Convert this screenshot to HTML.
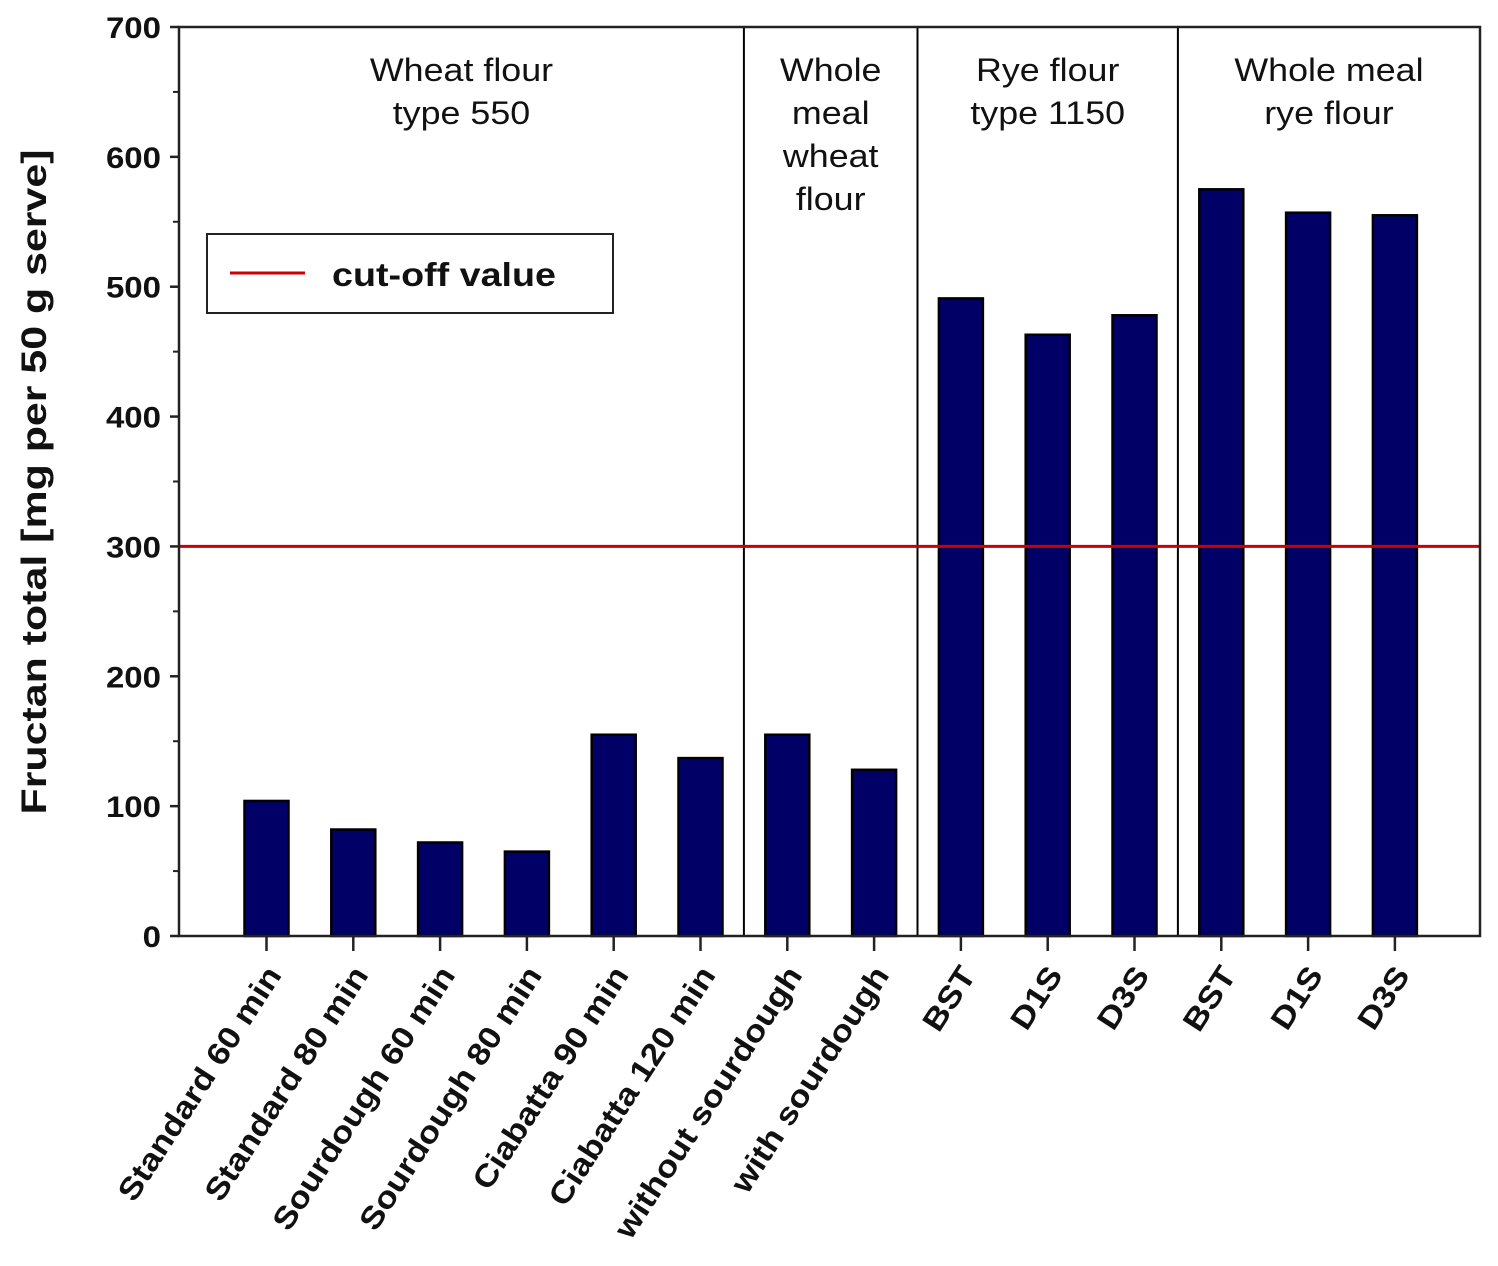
<!DOCTYPE html>
<html><head><meta charset="utf-8"><style>
html,body{margin:0;padding:0;background:#fff;}
svg{display:block;font-family:"Liberation Sans",Arial,sans-serif;}
</style></head><body>
<svg id="chart" width="1498" height="1266" viewBox="0 0 1498 1266" xmlns="http://www.w3.org/2000/svg">
<g id="plot"></g>
</svg>
<script>
const categories=["Standard 60 min","Standard 80 min","Sourdough 60 min","Sourdough 80 min","Ciabatta 90 min","Ciabatta 120 min","without sourdough","with sourdough","BST","D1S","D3S","BST","D1S","D3S"];
const values=[104,82,72,65,155,137,155,128,491,463,478,575,557,555];
const yTicks=[0,100,200,300,400,500,600,700];
const cutoff=300;
const groupLabels=[["Wheat flour","type 550"],["Whole","meal","wheat","flour"],["Rye flour","type 1150"],["Whole meal","rye flour"]];
const groupStarts=[0,6,8,11];

const NS="http://www.w3.org/2000/svg";
const L=179,R=1480,T=27,B=936,Y0=0,Y1=700;
const y=v=>B-(v-Y0)/(Y1-Y0)*(B-T);
const x0=266.5,step=86.8;
const x=i=>x0+i*step;
const g=document.getElementById('plot');
function mk(tag,attrs,parent){const e=document.createElementNS(NS,tag);for(const k in attrs)e.setAttribute(k,attrs[k]);(parent||g).appendChild(e);return e;}

values.forEach((v,i)=>{
  const r=mk('rect',{x:x(i)-22,y:y(v),width:44,height:B-y(v),fill:'#000066',stroke:'#000',"stroke-width":2.5});
  
  
});
groupStarts.slice(1).forEach((s,k)=>{
  const xv=(x(s-1)+x(s))/2;
  const l=mk('line',{x1:xv,x2:xv,y1:T,y2:B,stroke:'#000',"stroke-width":2});
  
  
});
groupLabels.forEach((lines,k)=>{
  const s=groupStarts[k],e=(k+1<groupStarts.length?groupStarts[k+1]:categories.length);
  const left=s===0?L:(x(s-1)+x(s))/2;
  const right=e===categories.length?R:(x(e-1)+x(e))/2;
  const cx=(left+right)/2;
  const t=mk('text',{x:0,y:0,"text-anchor":"middle","font-size":32,fill:'#111',transform:`translate(${cx} 81) scale(1.12 1)`});
  
  
  lines.forEach((ln,j)=>{const ts=mk('tspan',{x:0,dy:j?43:0},t);ts.textContent=ln;});
});
const cl=mk('line',{x1:L,x2:R,y1:y(cutoff),y2:y(cutoff),stroke:'#cc0000',"stroke-width":3});


const fr=mk('rect',{x:L,y:T,width:R-L,height:B-T,fill:'none',stroke:'#222',"stroke-width":2.5});


yTicks.forEach(v=>{
  mk('line',{x1:L-9,x2:L,y1:y(v),y2:y(v),stroke:'#222',"stroke-width":2.5});
  const t=mk('text',{x:0,y:0,"text-anchor":"end","font-size":30,"font-weight":"bold",fill:'#111',transform:`translate(${L-18} ${y(v)+11}) scale(1.1 1)`});
  
  
  t.textContent=v;
});
for(let v=50;v<700;v+=100){mk('line',{x1:L-6,x2:L,y1:y(v),y2:y(v),stroke:'#222',"stroke-width":2});}
categories.forEach((c,i)=>{
  mk('line',{x1:x(i),x2:x(i),y1:B,y2:B+15,stroke:'#222',"stroke-width":2.5});
  const tx=x(i)+16,ty=975;
  const t=mk('text',{x:0,y:0,"text-anchor":"end","font-size":31,"font-weight":"bold",fill:'#111',transform:`translate(${tx} ${ty}) rotate(-57) scale(1.13 1)`});
  
  
  t.textContent=c;
});
const yt=mk('text',{x:0,y:0,"text-anchor":"middle","font-size":35,"font-weight":"bold",fill:'#111',textLength:665,lengthAdjust:"spacingAndGlyphs",transform:`translate(46 482) rotate(-90)`});


yt.textContent="Fructan total [mg per 50 g serve]";
const lg=mk('g',{});


mk('rect',{x:207,y:234,width:406,height:79,fill:'#fff',stroke:'#222',"stroke-width":2},lg);
mk('line',{x1:230,x2:305,y1:273,y2:273,stroke:'#cc0000',"stroke-width":3},lg);
const lt=mk('text',{x:332,y:286,"font-size":33,"font-weight":"bold",fill:'#111',textLength:224,lengthAdjust:"spacingAndGlyphs"},lg);
lt.textContent="cut-off value";
</script>
</body></html>
